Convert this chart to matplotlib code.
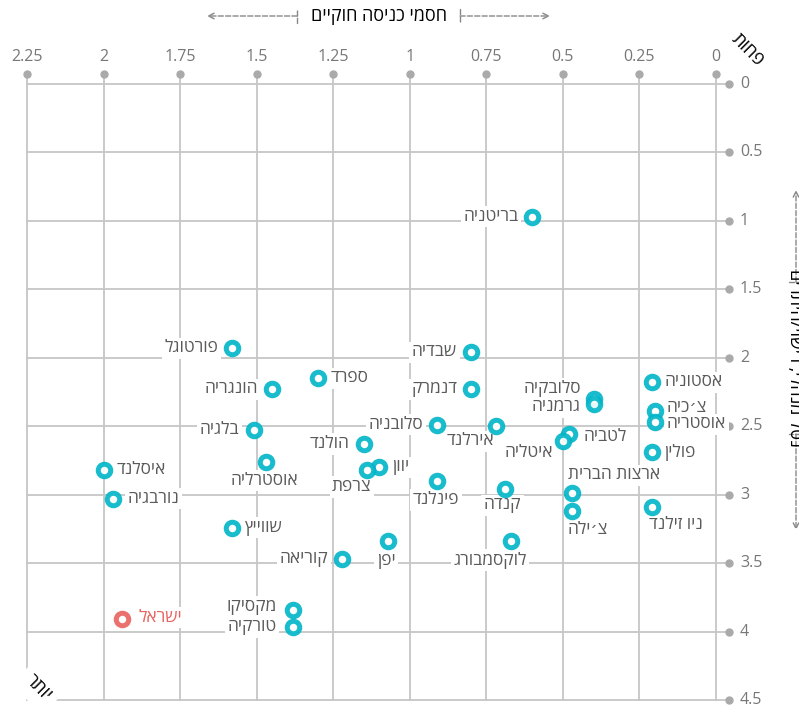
import matplotlib.pyplot as plt

plt.rcParams['font.family'] = ['Open Sans', 'DejaVu Sans']

# OECD countries: legal entry barriers (x) vs. second index (y)
countries = ['בריטניה', 'פורטוגל', 'שבדיה', 'ספרד', 'הונגריה', 'דנמרק', 'אסטוניה',
             'סלובקיה', 'גרמניה', 'צ׳כיה', 'אוסטריה', 'בלגיה', 'סלובניה', 'אירלנד',
             'לטביה', 'איטליה', 'הולנד', 'פולין', 'אוסטרליה', 'איסלנד', 'יוון', 'צרפת',
             'פינלנד', 'ארצות הברית', 'קנדה', 'נורבגיה', 'צ׳ילה', 'ניו זילנד', 'שווייץ',
             'יפן', 'לוקסמבורג', 'קוריאה', 'מקסיקו', 'טורקיה']
entry_x = [0.60, 1.58, 0.80, 1.30, 1.45, 0.80, 0.21,
           0.40, 0.40, 0.20, 0.20, 1.51, 0.91, 0.72,
           0.48, 0.50, 1.15, 0.21, 1.47, 2.00, 1.10, 1.14,
           0.91, 0.47, 0.69, 1.97, 0.47, 0.21, 1.58,
           1.07, 0.67, 1.22, 1.38, 1.38]
burden_y = [0.97, 1.93, 1.96, 2.15, 2.23, 2.23, 2.18,
            2.30, 2.34, 2.39, 2.47, 2.53, 2.49, 2.50,
            2.56, 2.61, 2.63, 2.69, 2.76, 2.82, 2.80, 2.82,
            2.90, 2.99, 2.96, 3.03, 3.12, 3.09, 3.24,
            3.34, 3.34, 3.47, 3.84, 3.97]

israel = 'ישראל'
israel_x = 1.94
israel_y = 3.91

x_ticks = [2.25, 2, 1.75, 1.5, 1.25, 1, 0.75, 0.5, 0.25, 0]
y_ticks = [0, 0.5, 1, 1.5, 2, 2.5, 3, 3.5, 4, 4.5]

x_title = 'חסמי כניסה חוקיים'
y_title = 'נטל מנהלי, רישוי/היתרים'

# label placement: (dx px, dy px downward, ha)
label_pos = {
    'סלובקיה': (-13, -10, 'right'), 'גרמניה': (-13, 3, 'right'),
    'אירלנד': (-1, 15, 'right'), 'איטליה': (-10, 12, 'right'),
    'אוסטרליה': (-2, 19, 'center'), 'צרפת': (-15, 17, 'center'),
    'פינלנד': (-1, 19, 'center'), 'ארצות הברית': (-4, -18, 'left'),
    'קנדה': (-2, 16, 'center'), 'צ׳ילה': (-5, 19, 'left'),
    'ניו זילנד': (-3, 18, 'left'), 'יפן': (-2, 20, 'center'),
    'לוקסמבורג': (16, 19, 'right'), 'מקסיקו': (-17, -3, 'right'),
    'טורקיה': (-17, 0, 'right'), 'צ׳כיה': (12, -3, 'left'),
    'אוסטריה': (12, 2, 'left'), 'לטביה': (14, 3, 'left'),
    'נורבגיה': (15, 0, 'left'),
}
right_side = ['ספרד', 'אסטוניה', 'פולין', 'איסלנד', 'יוון', 'שווייץ']


def heb(s):
    return s[::-1]


cyan = '#00b5c8'
red = '#e8625e'
grid_c = '#c6c6c6'
lbl_size = 12.5

fig = plt.figure(figsize=(7.99, 7.09), dpi=100)
ax = fig.add_axes([27 / 799, 1 - 700 / 709, (729 - 27) / 799, (700 - 74) / 709])
x_end = -(729 - 716) / 306
y_end = -(84 - 74) / 137
ax.set_xlim(2.25, x_end)
ax.set_ylim(4.5, y_end)
ax.axis('off')

for xv in x_ticks:
    ax.plot([xv, xv], [4.5, y_end], color=grid_c, lw=1.3, zorder=1, clip_on=False)
    ax.plot(xv, y_end, 'o', ms=5, color='#aaaaaa', zorder=1, clip_on=False)
    ax.annotate(f'{xv:g}', (xv, y_end), xytext=(0, 17 * 0.72), textcoords='offset points',
                ha='center', va='center', fontsize=11.5, color='#777777')
for yv in y_ticks:
    ax.plot([2.25, x_end], [yv, yv], color=grid_c, lw=1.3, zorder=1, clip_on=False)
    ax.plot(x_end, yv, 'o', ms=5, color='#aaaaaa', zorder=1, clip_on=False)
    ax.annotate(f'{yv:g}', (x_end, yv), xytext=(11 * 0.72, 0), textcoords='offset points',
                ha='left', va='center', fontsize=11.5, color='#777777')

box = dict(boxstyle='square,pad=0.15', fc='white', ec='none')
for name, xv, yv in zip(countries, entry_x, burden_y):
    if name in label_pos:
        dx, dy, ha = label_pos[name]
    elif name in right_side:
        dx, dy, ha = 13, 0, 'left'
    else:
        dx, dy, ha = -14, 0, 'right'
    ax.annotate(heb(name), (xv, yv), xytext=(dx * 0.72, -dy * 0.72), textcoords='offset points',
                ha=ha, va='center', fontsize=lbl_size, color='#5a5a5a', bbox=box, zorder=2)

ax.scatter(entry_x, burden_y, s=9 ** 2, facecolor='white', edgecolor=cyan,
           linewidths=3.6, alpha=0.9, zorder=3, clip_on=False)
ax.annotate(heb(israel), (israel_x, israel_y), xytext=(17 * 0.72, 1), textcoords='offset points',
            ha='left', va='center', fontsize=lbl_size, color=red, bbox=box, zorder=2)
ax.scatter([israel_x], [israel_y], s=9 ** 2, facecolor='white', edgecolor=red,
           linewidths=3.6, alpha=0.9, zorder=3)

# axis titles with dashed arrows
fig.text(379 / 799, 1 - 16 / 709, heb(x_title), ha='center', va='center', fontsize=13, color='black')
arrow = dict(arrowstyle=']->,widthA=0.5,lengthA=0', ls='--', color='#888888', lw=1,
             shrinkA=0, shrinkB=0)
for inner, outer in [((297, 693), (207, 693)), ((460, 693), (550, 693)),
                     ((796, 427), (796, 519)), ((796, 275), (796, 179))]:
    ax.annotate('', xy=outer, xytext=inner, xycoords='figure pixels',
                textcoords='figure pixels', arrowprops=arrow)
fig.text(786 / 799, 1 - 358 / 709, heb(y_title), rotation=-90, ha='left', va='center',
         fontsize=13, color='black')

fig.text(748 / 799, 1 - 50 / 709, heb('פחות'), rotation=-45, ha='center', va='center',
         fontsize=13, color='black')
fig.text(38 / 799, 1 - 688 / 709, heb('יותר'), rotation=-45, ha='center', va='center',
         fontsize=13, color='black', bbox=dict(boxstyle='square,pad=0.4', fc='white', ec='none'))

fig.savefig('out.png', dpi=100)
